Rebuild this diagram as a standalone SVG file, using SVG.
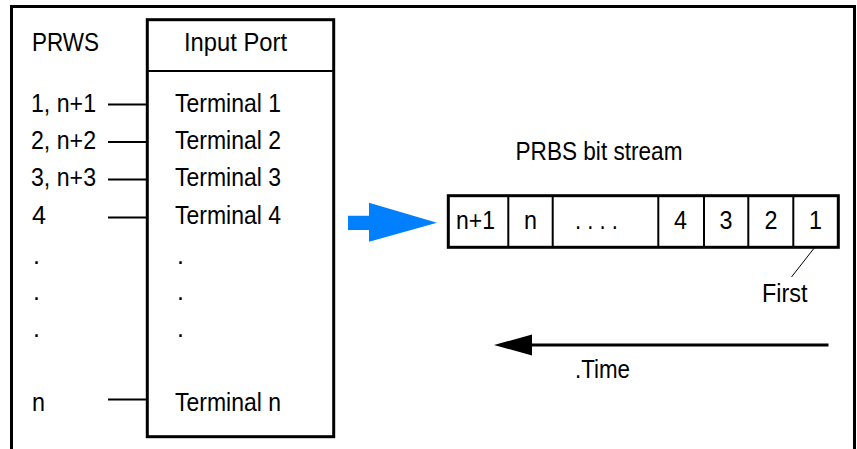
<svg xmlns="http://www.w3.org/2000/svg" width="857" height="449" viewBox="0 0 857 449">
<style>
  text { font-family: "Liberation Sans Narrow", "Liberation Sans", Arial, sans-serif; font-size: 25px; fill: #000; }
  .mid { text-anchor: middle; }
  .thick { fill: none; stroke: #000; stroke-width: 3; stroke-linecap: square; }
  .thin { fill: none; stroke: #000; stroke-width: 2; }
  .hair { fill: none; stroke: #000; stroke-width: 1; }
</style>
<rect width="857" height="449" fill="#fff"/>
<g id="frame">
  <path class="thick" d="M11.5,449 V6.5 H854.5 V449"/>
</g>
<g id="prws">
  <text x="32" y="50.5" textLength="67" lengthAdjust="spacingAndGlyphs">PRWS</text>
  <text x="31" y="111.5" textLength="65" lengthAdjust="spacingAndGlyphs">1, n+1</text>
  <text x="31" y="148.5" textLength="65" lengthAdjust="spacingAndGlyphs">2, n+2</text>
  <text x="31" y="186" textLength="65" lengthAdjust="spacingAndGlyphs">3, n+3</text>
  <text x="32" y="223.5" textLength="14" lengthAdjust="spacingAndGlyphs">4</text>
  <text x="33" y="263.5">.</text>
  <text x="33" y="299.5">.</text>
  <text x="33" y="337">.</text>
  <text x="32" y="410.5" textLength="13" lengthAdjust="spacingAndGlyphs">n</text>
</g>
<g id="input-port">
  <rect class="thick" x="147.3" y="19.7" width="186.4" height="417"/>
  <line class="thin" x1="147.3" y1="71" x2="333.7" y2="71"/>
  <text x="184" y="50.5" textLength="103" lengthAdjust="spacingAndGlyphs">Input Port</text>
  <text x="175" y="111.5" textLength="106" lengthAdjust="spacingAndGlyphs">Terminal 1</text>
  <text x="175" y="148.5" textLength="106" lengthAdjust="spacingAndGlyphs">Terminal 2</text>
  <text x="175" y="186" textLength="106" lengthAdjust="spacingAndGlyphs">Terminal 3</text>
  <text x="175" y="223.5" textLength="106" lengthAdjust="spacingAndGlyphs">Terminal 4</text>
  <text x="177" y="263.5">.</text>
  <text x="177" y="299.5">.</text>
  <text x="177" y="337">.</text>
  <text x="175" y="410.5" textLength="106" lengthAdjust="spacingAndGlyphs">Terminal n</text>
</g>
<g id="connectors">
  <line class="thin" x1="108" y1="104.5" x2="147" y2="104.5"/>
  <line class="thin" x1="108" y1="142" x2="147" y2="142"/>
  <line class="thin" x1="108" y1="179.5" x2="147" y2="179.5"/>
  <line class="thin" x1="108" y1="217.5" x2="147" y2="217.5"/>
  <line class="thin" x1="108" y1="399.5" x2="147" y2="399.5"/>
  <line class="hair" x1="815" y1="247" x2="791.5" y2="277"/>
</g>
<g id="blue-arrow">
  <polygon fill="#0080ff" points="348,215.7 369,215.7 369,202.7 437,222.8 369,241.7 369,230 348,230"/>
</g>
<g id="bitstream">
  <text x="515.5" y="159.5" textLength="167" lengthAdjust="spacingAndGlyphs">PRBS bit stream</text>
  <rect class="thick" x="448.3" y="195.7" width="390" height="51.6"/>
  <line class="thin" x1="508.3" y1="195.7" x2="508.3" y2="247.3"/>
  <line class="thin" x1="552.7" y1="195.7" x2="552.7" y2="247.3"/>
  <line class="thin" x1="658.3" y1="195.7" x2="658.3" y2="247.3"/>
  <line class="thin" x1="704" y1="195.7" x2="704" y2="247.3"/>
  <line class="thin" x1="748.3" y1="195.7" x2="748.3" y2="247.3"/>
  <line class="thin" x1="793.3" y1="195.7" x2="793.3" y2="247.3"/>
  <text x="456" y="228.5" textLength="39" lengthAdjust="spacingAndGlyphs">n+1</text>
  <text x="524" y="228.5" textLength="13" lengthAdjust="spacingAndGlyphs">n</text>
  <text x="575" y="228.5" textLength="43" lengthAdjust="spacingAndGlyphs">. . . .</text>
  <text x="674" y="228.5" textLength="13" lengthAdjust="spacingAndGlyphs">4</text>
  <text x="719.5" y="228.5" textLength="13" lengthAdjust="spacingAndGlyphs">3</text>
  <text x="764.5" y="228.5" textLength="13" lengthAdjust="spacingAndGlyphs">2</text>
  <text x="809" y="228.5" textLength="13" lengthAdjust="spacingAndGlyphs">1</text>
  <text x="762" y="302" textLength="45.5" lengthAdjust="spacingAndGlyphs">First</text>
</g>
<g id="time-arrow">
  <line x1="530" y1="345" x2="828.5" y2="345" stroke="#000" stroke-width="3"/>
  <polygon fill="#000" points="494,345 532,334.5 532,355.5"/>
  <text x="575" y="377.5" textLength="55" lengthAdjust="spacingAndGlyphs">.Time</text>
</g>
</svg>
